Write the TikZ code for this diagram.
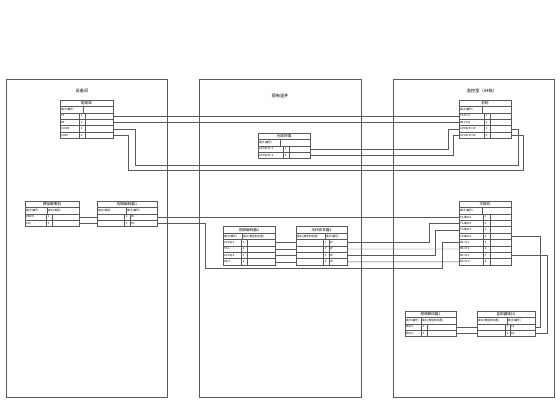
\documentclass[tikz,border=0pt]{standalone}
\usepackage{fontspec}
\newfontfamily\cjk{Noto Sans CJK SC}
\def\wrh{6.4}
\tikzset{
  panel/.style={draw=black!65,line width=0.55pt},
  grid/.style={draw=black!65,line width=0.4pt},
  wire/.style={draw=black!65,line width=0.4pt},
  ttl/.style={inner sep=0pt,font=\cjk\fontsize{3.6}{4}\selectfont},
  cell/.style={inner sep=0pt,font=\cjk\fontsize{2.7}{3}\selectfont},
  ptitle/.style={inner sep=0pt,font=\cjk\fontsize{4.2}{5}\selectfont}
}
% table: name, left, right, top, rows, col a, col b, header split, title
\newcommand{\wtable}[9]{%
  \pgfmathsetmacro{\wbot}{#4+\wrh*(#5+2)}%
  \pgfmathtruncatemacro{\wn}{#5+1}%
  \draw[grid] (#2,#4) rectangle (#3,\wbot);
  \foreach \k in {1,...,\wn} {\draw[grid] (#2,{#4+\wrh*\k}) -- (#3,{#4+\wrh*\k});}
  \draw[grid] (#8,{#4+\wrh}) -- (#8,{#4+2*\wrh});
  \draw[grid] (#6,{#4+2*\wrh}) -- (#6,\wbot);
  \draw[grid] (#7,{#4+2*\wrh}) -- (#7,\wbot);
  \node[ttl] (#1-t) at ({(#2+#3)/2},{#4+\wrh/2}) {#9};
  \coordinate (#1-hw) at (#2,{#4+1.5*\wrh});
  \coordinate (#1-hm) at (#8,{#4+1.5*\wrh});
  \foreach \i in {1,...,#5} {
    \coordinate (#1-\i-w) at (#2,{#4+\wrh*(\i+1.5)});
    \coordinate (#1-\i-e) at (#3,{#4+\wrh*(\i+1.5)});
    \coordinate (#1-\i-a) at (#6,{#4+\wrh*(\i+1.5)});
    \coordinate (#1-\i-b) at (#7,{#4+\wrh*(\i+1.5)});
  }%
}
% header: name, left text, right text
\newcommand{\whead}[3]{%
  \node[cell,anchor=west] (#1-hl) at ([xshift=1]#1-hw) {#2};
  \node[cell,anchor=west] (#1-hr) at ([xshift=1]#1-hm) {#3};%
}
% row: name, row, left text, number, right text
\newcommand{\wrow}[5]{%
  \node[cell,anchor=west] (#1-#2-l) at ([xshift=1]#1-#2-w) {#3};
  \node[cell,anchor=west] (#1-#2-n) at ([xshift=1.6]#1-#2-a) {#4};
  \node[cell,anchor=west] (#1-#2-r) at ([xshift=1]#1-#2-b) {#5};%
}
\begin{document}
\begin{tikzpicture}[x=1pt,y=-1pt]
\useasboundingbox[fill=white] (0,0) rectangle (560,420);

% Drawing rooms
\draw[panel] (6,79) rectangle (167,397);
\draw[panel] (199,79) rectangle (361,397);
\draw[panel] (393,79) rectangle (554,397);
\node[ptitle] (room1) at (82,91) {设备间};
\node[ptitle] (room2) at (280,96) {弱电竖井};
\node[ptitle] (room3) at (482,91) {监控室（A4栋）};

% Drawing tables, equipment room
\wtable{LT}{60}{113}{100}{4}{79}{85}{83}{配线架}
\whead{LT}{端子(编号)}{}
\wrow{LT}{1}{TX}{1}{}
\wrow{LT}{2}{RX}{2}{}
\wrow{LT}{3}{1000M}{3}{}
\wrow{LT}{4}{100M}{4}{}

\wtable{A}{25}{79}{201}{2}{46}{52}{47}{模拟摄像机}
\whead{A}{端子(编号)}{接口(类型)}
\wrow{A}{1}{VIDEO}{1}{}
\wrow{A}{2}{12V}{2}{}

\wtable{B}{97}{157}{201}{2}{124}{130}{126}{视频编码器1}
\whead{B}{接口(类型)}{端子(编号)}
\wrow{B}{1}{}{1}{IN}
\wrow{B}{2}{}{2}{DC}

% Drawing tables, shaft
\wtable{MT}{258}{310}{133}{2}{283}{289}{280}{光缆终端}
\whead{MT}{端子(编号)}{}
\wrow{MT}{1}{GPON/FC-1}{1}{}
\wrow{MT}{2}{GPON/FC-2}{2}{}

\wtable{M2}{223}{275}{226.6}{4}{241}{247}{242}{视频编码器2}
\whead{M2}{端子(编号)}{接口(类型和位置)}
\wrow{M2}{1}{GPON/1}{1}{}
\wrow{M2}{2}{TX/1}{2}{}
\wrow{M2}{3}{GPON/2}{3}{}
\wrow{M2}{4}{RX/2}{4}{}

\wtable{M3}{296}{347}{226.6}{4}{323}{329}{325}{光纤收发器2}
\whead{M3}{接口(类型和位置)}{端子(编号)}
\wrow{M3}{1}{}{1}{1F}
\wrow{M3}{2}{}{2}{2F}
\wrow{M3}{3}{}{3}{3F}
\wrow{M3}{4}{}{4}{4F}

% Drawing tables, control room
\wtable{RT}{459}{511}{100}{4}{484}{490}{482}{机柜}
\whead{RT}{端子(编号)}{}
\wrow{RT}{1}{TX-FC-A}{1}{}
\wrow{RT}{2}{RX-FC-B}{2}{}
\wrow{RT}{3}{GPON/FC/1F}{3}{}
\wrow{RT}{4}{GPON/FC/2F}{4}{}

\wtable{R2}{459}{511}{201}{8}{483}{490}{482}{交换机}
\whead{R2}{端子(编号)}{}
\wrow{R2}{1}{TX-端口1}{1}{}
\wrow{R2}{2}{TX-端口2}{2}{}
\wrow{R2}{3}{TX-端口3}{3}{}
\wrow{R2}{4}{TX-端口4}{4}{}
\wrow{R2}{5}{RX-1F-1}{5}{}
\wrow{R2}{6}{RX-1F-2}{6}{}
\wrow{R2}{7}{RX-2F-1}{7}{}
\wrow{R2}{8}{RX-2F-2}{8}{}

\wtable{R3}{405}{456}{311}{2}{421}{427}{421}{视频解码器1}
\whead{R3}{端子(编号)}{接口(类型和位置)}
\wrow{R3}{1}{网口1}{1}{}
\wrow{R3}{2}{网口2}{2}{}

\wtable{R4}{477}{535}{311}{2}{505}{510}{507}{监视器墙(1)}
\whead{R4}{接口(类型和位置)}{端子(编号)}
\wrow{R4}{1}{}{1}{A1}
\wrow{R4}{2}{}{2}{A2}

% Drawing wires, top
\draw[wire] (LT-1-e) -- (RT-1-w);
\draw[wire] (LT-2-e) -- (RT-2-w);
\draw[wire] (LT-3-e) -| (135,165) -| ([xshift=7]RT-3-e) -- (RT-3-e);
\draw[wire] (LT-4-e) -| (128,170) -| ([xshift=12]RT-4-e) -- (RT-4-e);
\draw[wire] (MT-1-e) -| ([xshift=-11]RT-3-w) -- (RT-3-w);
\draw[wire] (MT-2-e) -| ([xshift=-6]RT-4-w) -- (RT-4-w);

% Drawing wires, middle
\draw[wire] (A-1-e) -- (B-1-w);
\draw[wire] (A-2-e) -- (B-2-w);
\draw[wire] (B-1-e) -- (R2-1-w);
\draw[wire] (B-2-e) -| (205,268) -| ([xshift=-17]R2-5-w) -- (R2-5-w);
\foreach \i in {1,...,4} {\draw[wire] (M2-\i-e) -- (M3-\i-w);}
\draw[wire] (M3-1-e) -| ([xshift=-30]R2-2-w) -- (R2-2-w);
\draw[wire] (M3-2-e) -- (R2-6-w);
\draw[wire] (M3-3-e) -| ([xshift=-24]R2-3-w) -- (R2-3-w);
\draw[wire] (M3-4-e) -- (R2-8-w);

% Drawing wires, bottom
\draw[wire] (R3-1-e) -- (R4-1-w);
\draw[wire] (R3-2-e) -- (R4-2-w);
\draw[wire] (R2-4-e) -| ([xshift=5]R4-1-e) -- (R4-1-e);
\draw[wire] (R2-7-e) -| ([xshift=12]R4-2-e) -- (R4-2-e);
\end{tikzpicture}
\end{document}
